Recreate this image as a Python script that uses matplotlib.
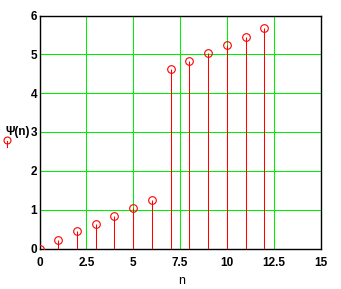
import matplotlib.pyplot as plt
from matplotlib.lines import Line2D

plt.rcParams["font.family"] = ["Liberation Sans", "DejaVu Sans"]

# values
n = list(range(13))
psi = [0.0, 0.22, 0.44, 0.63, 0.83, 1.05, 1.26, 4.62, 4.83, 5.04, 5.24, 5.45, 5.67]

x_ticks = [0, 2.5, 5, 7.5, 10, 12.5, 15]
x_tick_labels = ["0", "2.5", "5", "7.5", "10", "12.5", "15"]
y_ticks = [0, 1, 2, 3, 4, 5, 6]

W, H = 341, 289
fig = plt.figure(figsize=(W / 100, H / 100), dpi=100)
ax = fig.add_axes([39.5 / W, 1 - 248.5 / H, 281 / W, 233 / H])

# stems + open circle markers
ax.vlines(n, 0, psi, color="red", lw=0.75, zorder=3)
ax.plot(n, psi, "o", mfc="none", mec="red", ms=5.5, mew=0.8, zorder=4)

ax.set_xlim(0, 15)
ax.set_ylim(0, 6)
ax.set_xticks(x_ticks)
ax.set_xticklabels(x_tick_labels)
ax.set_yticks(y_ticks)

ax.grid(True, color="#00ee00", lw=0.75)
ax.set_axisbelow(True)

for s in ax.spines.values():
    s.set_color("black")
    s.set_linewidth(1)

ax.tick_params(axis="both", length=0, labelsize=8.5)
ax.tick_params(axis="x", pad=6)
ax.tick_params(axis="y", pad=1.8)
for lab in ax.get_xticklabels() + ax.get_yticklabels():
    lab.set_fontweight("bold")

# y label with its trace symbol underneath
fig.text(29.5 / W, 1 - 132 / H, "Ψ(n)", ha="right", va="center",
         fontsize=8.5, fontweight="bold")
fig.add_artist(Line2D([7 / W, 7 / W], [1 - 141 / H, 1 - 147 / H],
                      color="red", lw=0.75, transform=fig.transFigure))
fig.add_artist(Line2D([7 / W], [1 - 140 / H], marker="o", mfc="none",
                      mec="red", ms=5, mew=0.8, transform=fig.transFigure))

# x label
fig.text(182 / W, 1 - 280.5 / H, "n", ha="center", va="center", fontsize=9)

fig.savefig("out.png", dpi=100)
plt.close(fig)
